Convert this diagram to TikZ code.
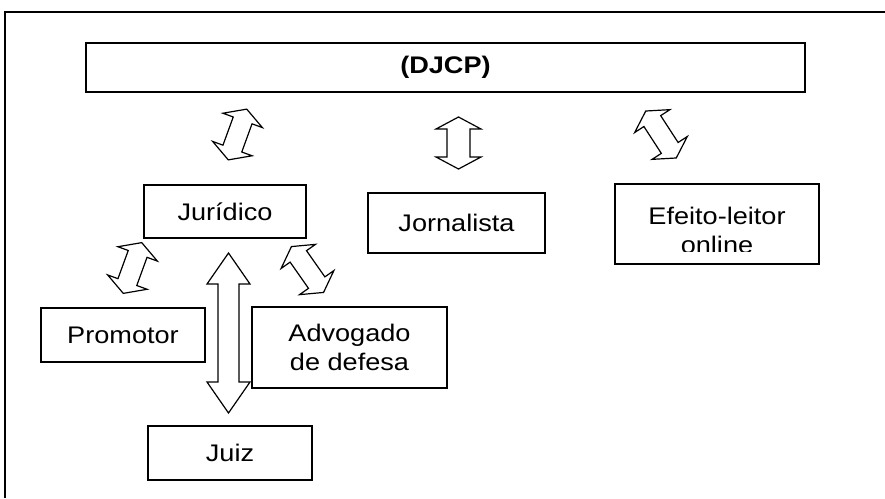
\documentclass[tikz,border=0pt]{standalone}
\usepackage{fontspec}
\setmainfont{Liberation Sans}[FakeStretch=1.13]

% double block arrow: centre x, centre y, angle, half length, head half width, head length, shaft half width
\newcommand{\twoway}[7]{%
  \draw[arrowline, shift={(#1,#2)}, rotate=#3]
    (#4,0) -- (#4-#6,#5) -- (#4-#6,#7) -- (-#4+#6,#7) -- (-#4+#6,#5)
    -- (-#4,0) -- (-#4+#6,-#5) -- (-#4+#6,-#7) -- (#4-#6,-#7) -- (#4-#6,-#5) -- cycle;}

\begin{document}
\begin{tikzpicture}[x=1pt, y=-1pt,
    caixa/.style={draw, line width=1.3pt, inner sep=0pt, align=center,
        font=\fontsize{24}{29}\selectfont},
    arrowline/.style={line width=1.2pt, line join=miter}]
        \useasboundingbox (0,0) rectangle (885,498);

        % frame
        \draw[line width=1.5pt] (885,12) -- (5,12) -- (5,498);

        % DJCP
        \node [caixa,
            minimum width=719pt,
            minimum height=49pt,
        ] (djcp) at (445.5,67.5) {\bfseries (DJCP)};

        % Juridico
        \node [caixa,
            minimum width=162pt,
            minimum height=53pt,
        ] (juridico) at (225,211.5) {Jurídico};

        % Jornalista
        \node [caixa,
            minimum width=177pt,
            minimum height=60pt,
        ] (jornalista) at (456.5,223) {Jornalista};

        % Efeito-leitor
        \node [caixa,
            minimum width=204pt,
            minimum height=80pt,
        ] (efeito) at (717,224) {};
        \begin{scope}
            \clip (efeito.north west) rectangle (819,251);
            \node [align=center, font=\fontsize{24}{29}\selectfont]
                (efeitotxt) at (717,230) {Efeito-leitor\\online};
        \end{scope}

        % Promotor
        \node [caixa,
            minimum width=164pt,
            minimum height=54pt,
        ] (promotor) at (123,335) {Promotor};

        % Advogado
        \node [caixa,
            minimum width=195pt,
            minimum height=81pt,
        ] (advogado) at (349.5,347.5) {Advogado\\de defesa};

        % Juiz
        \node [caixa,
            minimum width=164pt,
            minimum height=54pt,
        ] (juiz) at (230,453) {Juiz};

        % block arrows
        \twoway{237.5}{134.5}{70}{27}{21}{12}{10}
        \twoway{458.5}{143}{90}{26}{22.5}{12}{11.5}
        \twoway{661}{134.5}{123}{28}{21}{12}{10}
        \twoway{132.5}{268}{70}{27}{21}{12}{10}
        \twoway{307.5}{269.5}{125}{28}{21}{12}{10}
        \twoway{228.5}{333}{90}{80}{21.5}{31}{10.5}
\end{tikzpicture}
\end{document}
